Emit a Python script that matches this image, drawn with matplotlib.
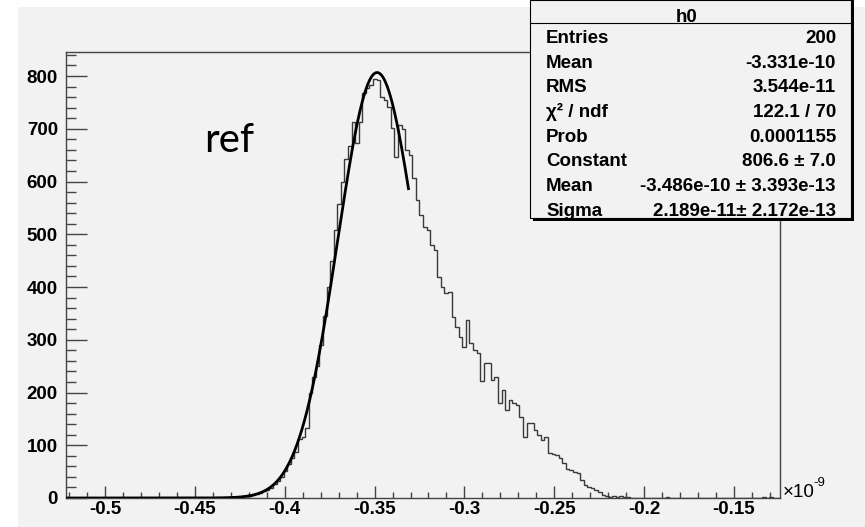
import numpy as np
import matplotlib
matplotlib.use("Agg")
import matplotlib.pyplot as plt
from matplotlib.patches import Rectangle
from matplotlib.ticker import MultipleLocator, FixedLocator

# ---------------- data ----------------
x_min, x_max = -0.5217, -0.1244      # axis range (units of 1e-9)
n_bins = 200
counts = [0] * 200
# bin contents (index: value)
bin_values = {
    42: 1, 44: 1, 45: 1, 46: 1, 47: 2, 48: 2, 49: 3, 50: 3, 51: 4, 52: 6, 53: 7,
    54: 9, 55: 13, 56: 15, 57: 19, 58: 27, 59: 32, 60: 40, 61: 52, 62: 64,
    63: 76, 64: 87, 65: 112, 66: 115, 67: 133, 68: 200, 69: 229, 70: 250,
    71: 290, 72: 345, 73: 400, 74: 450, 75: 508, 76: 557, 77: 600, 78: 643,
    79: 668, 80: 713, 81: 673, 82: 713, 83: 768, 84: 777, 85: 783, 86: 794,
    87: 792, 88: 760, 89: 755, 90: 741, 91: 701, 92: 646, 93: 707, 94: 700,
    95: 660, 96: 650, 97: 607, 98: 565, 99: 536, 100: 514, 101: 508, 102: 480,
    103: 470, 104: 419, 105: 400, 106: 389, 107: 391, 108: 343, 109: 324,
    110: 305, 111: 286, 112: 337, 113: 294, 114: 280, 115: 275, 116: 222,
    117: 256, 118: 256, 119: 224, 120: 229, 121: 180, 122: 205, 123: 167,
    124: 186, 125: 180, 126: 176, 127: 154, 128: 116, 129: 142, 130: 142,
    131: 129, 132: 119, 133: 110, 134: 116, 135: 85, 136: 83, 137: 82,
    138: 75, 139: 66, 140: 55, 141: 53, 142: 49, 143: 47, 144: 35, 145: 25,
    146: 21, 147: 19, 148: 16, 149: 11, 150: 6, 151: 3, 152: 2, 153: 4,
    154: 1, 155: 3, 156: 2, 157: 1, 168: 1, 195: 1, 197: 2,
}
for k, v in bin_values.items():
    counts[k] = v

# Gaussian fit parameters (from stats box)
fit_const = 806.6
fit_mean = -0.3486
fit_sigma = 0.02189
fit_end = -0.331

stat_labels = ["Entries", "Mean", "RMS", "\u03c7\u00b2 / ndf", "Prob",
               "Constant", "Mean", "Sigma"]
stat_values = ["200", "-3.331e-10", "3.544e-11", "122.1 / 70", "0.0001155",
               "806.6 \u00b1 7.0", "-3.486e-10 \u00b1 3.393e-13",
               "2.189e-11\u00b1 2.172e-13"]
hist_title = "h0"
x_ticks = [-0.5, -0.45, -0.4, -0.35, -0.3, -0.25, -0.2, -0.15]
y_ticks = [0, 100, 200, 300, 400, 500, 600, 700, 800]

# ---------------- figure ----------------
W, H = 865, 527
fig = plt.figure(figsize=(W / 100, H / 100), dpi=100)
fig.patch.set_facecolor("white")
bg = "#f2f2f2"

def fx(x):
    return x / W

def fy(y):
    return 1 - y / H

# canvas
fig.add_artist(Rectangle((fx(18), 0), 1 - fx(18), fy(7), transform=fig.transFigure,
                         facecolor=bg, edgecolor="none", zorder=0))

ax = fig.add_axes([fx(66), fy(498), (780 - 66) / W, (498 - 52) / H])
ax.set_facecolor("none")
ax.set_xlim(x_min, x_max)
ax.set_ylim(0, 845.5)

edges = np.linspace(x_min, x_max, n_bins + 1)
ax.stairs(counts, edges, color="#3a3a3a", lw=1.0, zorder=3)

xf = np.linspace(x_min, fit_end, 600)
yf = fit_const * np.exp(-0.5 * ((xf - fit_mean) / fit_sigma) ** 2)
ax.plot(xf, yf, color="black", lw=2.0, zorder=4, solid_capstyle="butt")

for s in ax.spines.values():
    s.set_color("#444444")
    s.set_linewidth(1.0)

ax.xaxis.set_major_locator(FixedLocator(x_ticks))
ax.xaxis.set_minor_locator(MultipleLocator(0.01))
ax.yaxis.set_major_locator(FixedLocator(y_ticks))
ax.yaxis.set_minor_locator(MultipleLocator(20))
ax.set_xticklabels([f"{t:g}" for t in x_ticks])
ax.set_yticklabels([f"{t:g}" for t in y_ticks])

lab_font = dict(family="Liberation Sans", weight="bold", size=13.5)
ax.tick_params(axis="both", which="both", direction="in", color="#444444",
               width=1.0, top=False, right=False)
ax.tick_params(axis="x", which="major", length=8.6, pad=2.0)
ax.tick_params(axis="x", which="minor", length=4.3)
ax.tick_params(axis="y", which="major", length=15, pad=5.8)
ax.tick_params(axis="y", which="minor", length=7.2)
for lab in ax.get_xticklabels() + ax.get_yticklabels():
    lab.set_fontfamily("Liberation Sans")
    lab.set_fontweight("bold")
    lab.set_fontsize(13.5)

# x10^-9
fig.text(fx(783), fy(497), "\u00d710", ha="left", va="baseline",
         family="Liberation Sans", size=13.5)
fig.text(fx(813.5), fy(486), "-9", ha="left", va="baseline",
         family="Liberation Sans", size=9.5)

# "ref" annotation
fig.text(fx(204), fy(152), "ref", ha="left", va="baseline", family="Lato",
         size=29, color="black")

# stats box
bx0, bx1, by0, by1 = 530, 851, 0, 218
fig.add_artist(Rectangle((fx(bx0 + 3), fy(by1 + 3)), (bx1 - bx0) / W, (by1 + 3) / H,
                         transform=fig.transFigure, facecolor="black",
                         edgecolor="none", zorder=5))
fig.add_artist(Rectangle((fx(bx0), fy(by1)), (bx1 - bx0) / W, (by1 - by0) / H,
                         transform=fig.transFigure, facecolor=bg,
                         edgecolor="black", lw=0.8, zorder=6))
fig.add_artist(plt.Line2D([fx(bx0), fx(bx1)], [fy(23), fy(23)],
                          transform=fig.transFigure, color="black", lw=0.8,
                          zorder=7))
fig.text(fx(687), fy(21.5), hist_title, ha="center", va="baseline",
         zorder=8, **lab_font)
for k, (lab, val) in enumerate(zip(stat_labels, stat_values)):
    yb = 43.3 + k * 24.6
    fig.text(fx(546), fy(yb), lab, ha="left", va="baseline", zorder=8, **lab_font)
    fig.text(fx(836), fy(yb), val, ha="right", va="baseline", zorder=8, **lab_font)

fig.savefig("out.png", dpi=100, facecolor=fig.get_facecolor())
